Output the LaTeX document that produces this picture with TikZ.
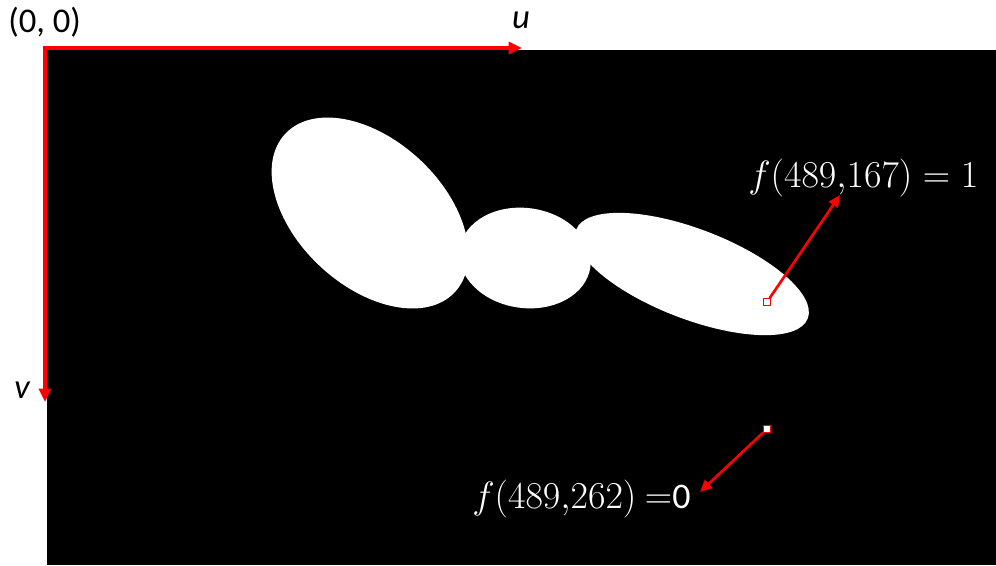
\RequirePackage{fix-cm}
\documentclass[tikz,border=0pt]{standalone}
\usepackage{fontspec}
\setmainfont{Carlito}
\usetikzlibrary{arrows.meta}
\begin{document}
\begin{tikzpicture}[x=0.75pt,y=-0.75pt,
  axis/.style={draw=red, line width=2.6pt, line join=miter},
  ptr/.style={draw=red, line width=2pt, -{Triangle[length=9pt,width=8pt]}},
  pix/.style={draw=red, fill=white, line width=0.8pt, minimum size=5pt, inner sep=0pt},
  lbl/.style={text=white, font=\fontsize{28.5}{32}\selectfont, inner sep=0pt},
  ax/.style={font=\fontsize{26}{30}\selectfont, inner sep=0pt},
  blob/.style={fill=white}]
\useasboundingbox (0,0) rectangle (996,565);
\fill[black] (47,50) rectangle (996,565);
% white shape
\fill[blob, rotate around={-43:(370,213)}] (370,213) ellipse [x radius=116, y radius=73];
\fill[blob, rotate around={-8:(525,258)}] (525,258) ellipse [x radius=66, y radius=50];
\fill[blob, rotate around={-21:(692,274)}] (692,274) ellipse [x radius=124, y radius=45];
% axes
\coordinate (o) at (45,48);
\coordinate (ue) at (522,48);
\coordinate (ve) at (45,402);
\draw[axis, {Triangle[length=10pt,width=9pt]}-{Triangle[length=10pt,width=9pt]}] (ue) -- (o) -- (ve);
\node[ax, anchor=west] (orig) at (8,22) {(0, 0)};
\node[ax] (u) at (521,20) {\itshape u};
\node[ax] (v) at (22,390) {\itshape v};
% pixels and labels
\node[pix] (p1) at (767,302) {};
\node[pix] (p2) at (767,429) {};
\node[lbl, anchor=west] (l1) at (748,178) {$f(489{,}167)=1$};
\node[lbl, anchor=west] (l2) at (472,499) {$f(489{,}262)\ {=}${\fontsize{27}{30}\selectfont 0}};
\coordinate (t1) at (840,195);
\coordinate (t2) at (700,492);
\draw[ptr] (p1) -- (t1);
\draw[ptr] (p2) -- (t2);
\end{tikzpicture}
\end{document}
